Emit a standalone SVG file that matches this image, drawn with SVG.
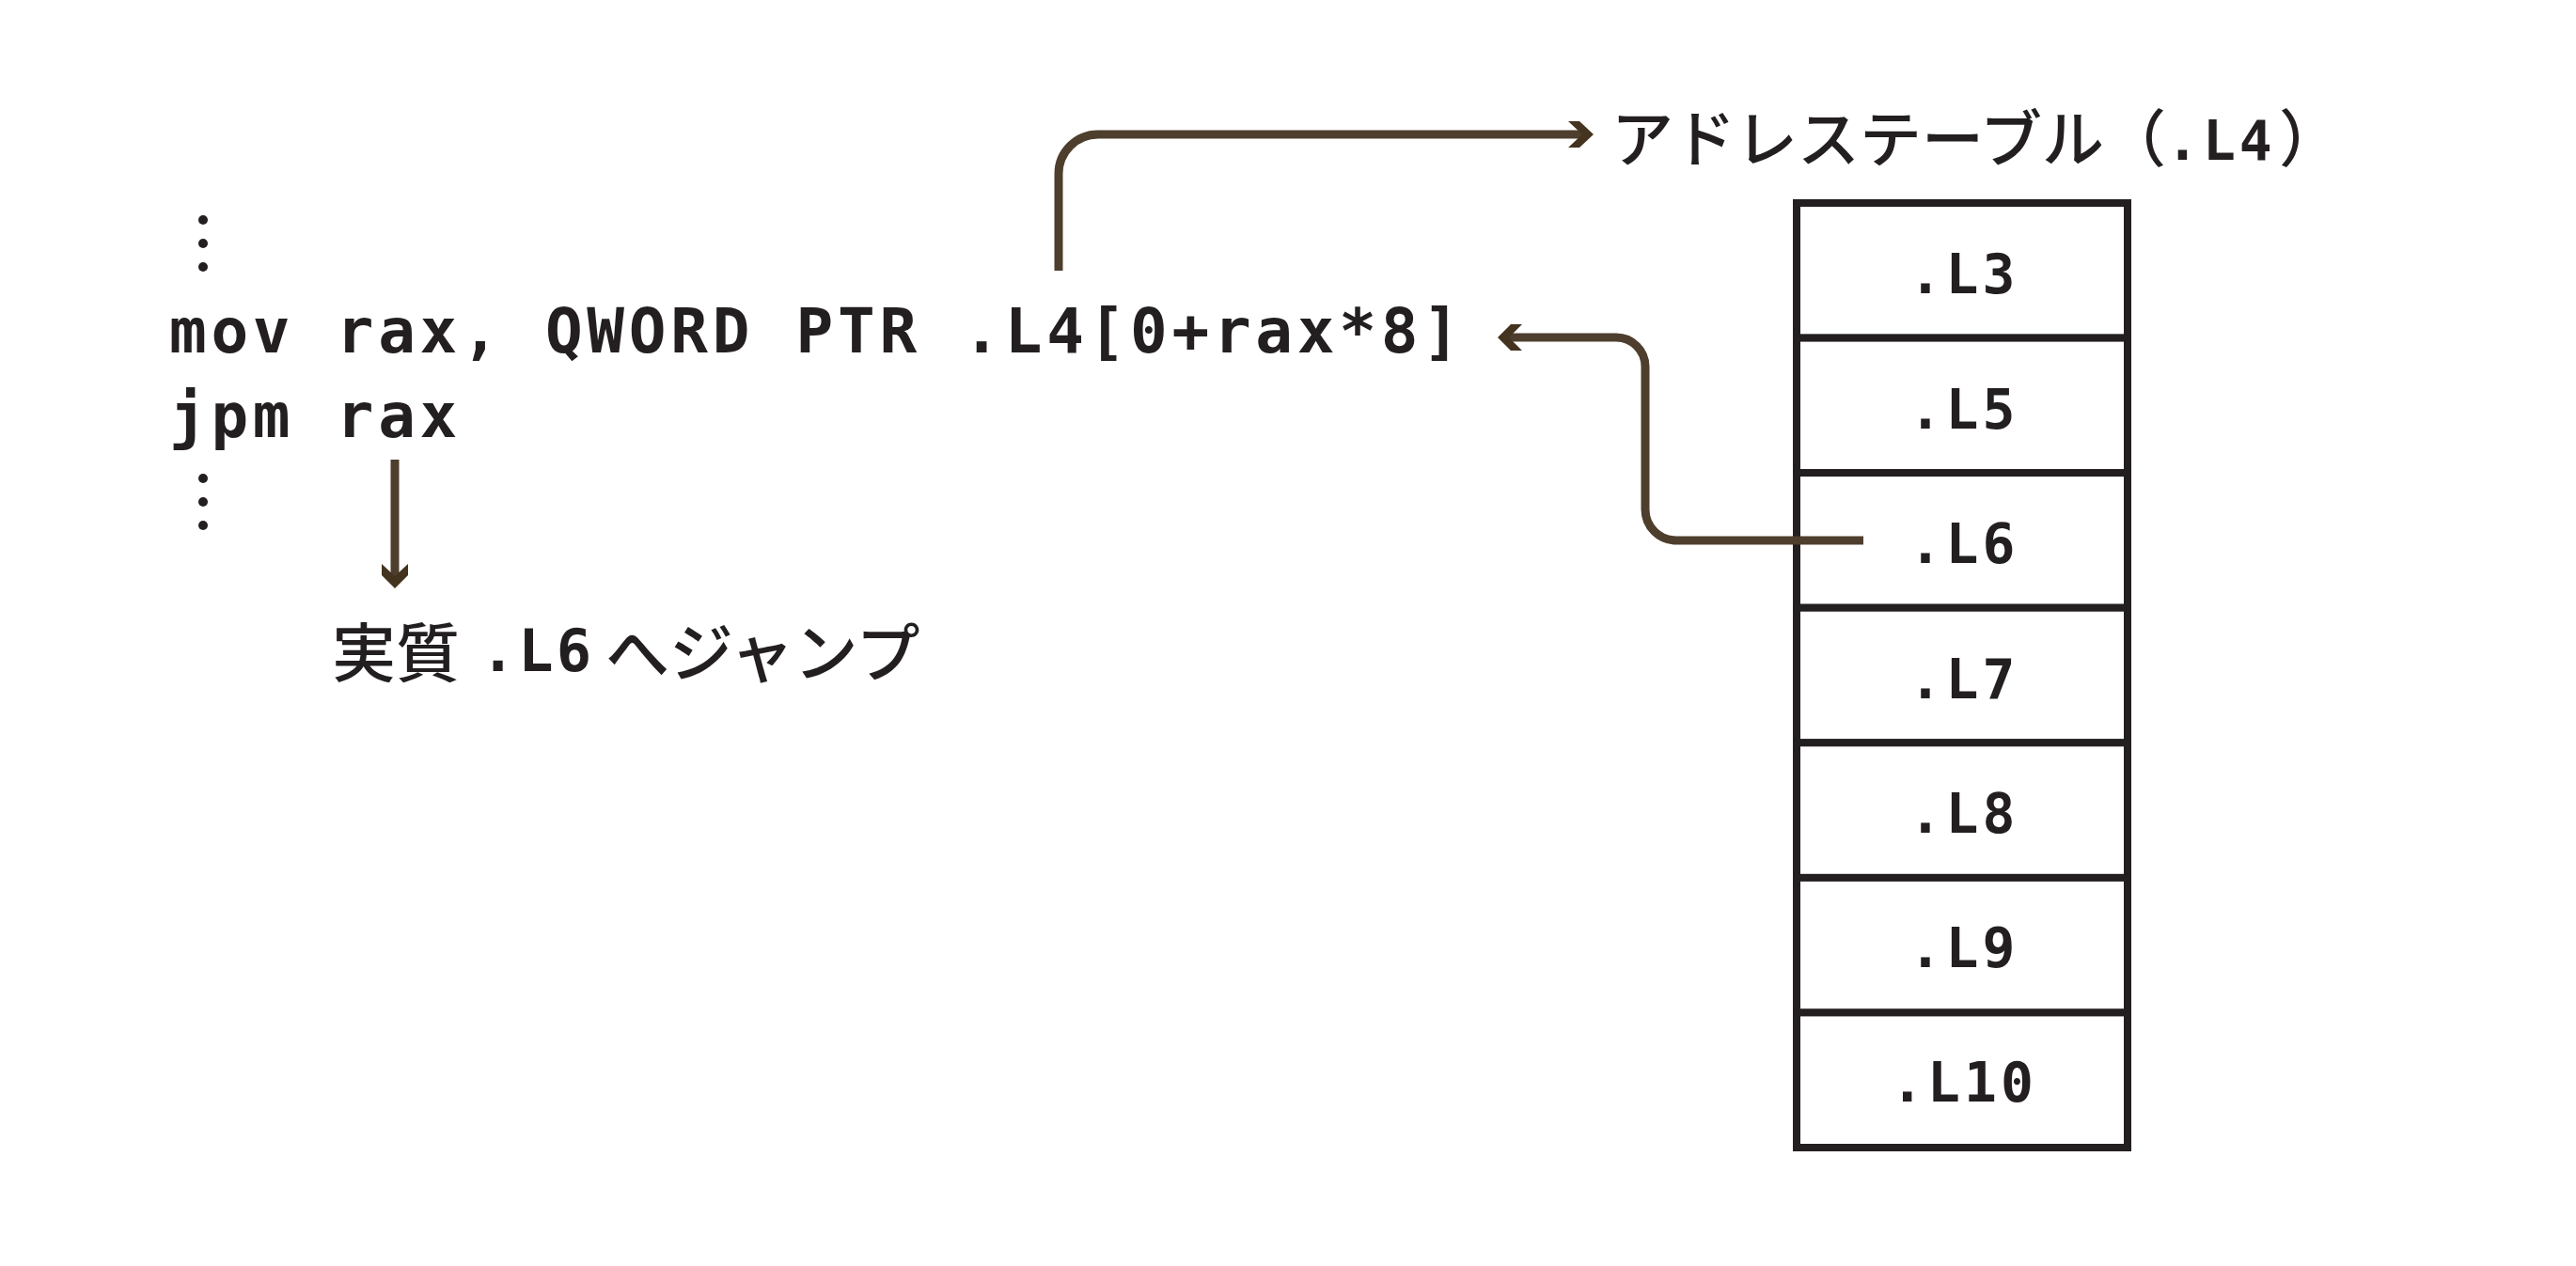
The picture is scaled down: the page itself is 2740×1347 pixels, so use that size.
<svg xmlns="http://www.w3.org/2000/svg" width="2740" height="1347" viewBox="0 0 2740 1347">
<style>
.code{font-family:"DejaVu Sans Mono","Liberation Mono",monospace;font-weight:bold;fill:#231f20}
.cjk{font-family:"Noto Sans CJK JP","Noto Sans",sans-serif;font-weight:500;fill:#231f20}
.cell{fill:#fff;stroke:#231f20;stroke-width:8}
.lbl{font-family:"DejaVu Sans Mono","Liberation Mono",monospace;font-weight:bold;font-size:58px;letter-spacing:4px;fill:#231f20;text-anchor:middle}
.conn{fill:none;stroke:#4e3e2d;stroke-width:9}
.head{fill:#43331f}
.dot{fill:#231f20}
</style>
<rect width="2740" height="1347" fill="#fff"/>
<g id="code">
<text class="code" x="180" y="375" font-size="66" letter-spacing="4.7">mov rax, QWORD PTR .L4[0+rax*8]</text>
<text class="code" x="180" y="465" font-size="66" letter-spacing="4.7">jpm rax</text>
</g>
<g id="ellipsis-top">
<circle class="dot" cx="216" cy="234" r="5"/>
<circle class="dot" cx="216" cy="259" r="5"/>
<circle class="dot" cx="216" cy="284" r="5"/>
</g>
<g id="ellipsis-bottom">
<circle class="dot" cx="216" cy="509" r="5"/>
<circle class="dot" cx="216" cy="534" r="5"/>
<circle class="dot" cx="216" cy="559" r="5"/>
</g>
<g id="jump-label">
<text class="cjk" font-size="68" y="720"><tspan x="353">実質</tspan><tspan class="code" x="511" y="714" font-size="62" letter-spacing="3">.L6</tspan><tspan x="644" y="720">へジャンプ</tspan></text>
</g>
<g id="table-title">
<text class="cjk" font-size="66" y="172"><tspan x="1714">アドレステーブル（</tspan><tspan class="code" x="2304" y="170" font-size="58" letter-spacing="4">.L4</tspan><tspan x="2424" y="172">）</tspan></text>
</g>
<g id="table">
<g id="row-L3"><rect class="cell" x="1911" y="216" width="352" height="143.6"/><text class="lbl" x="2089" y="312">.L3</text></g>
<g id="row-L5"><rect class="cell" x="1911" y="359.6" width="352" height="143.6"/><text class="lbl" x="2089" y="456">.L5</text></g>
<g id="row-L6"><rect class="cell" x="1911" y="503.1" width="352" height="143.6"/><text class="lbl" x="2089" y="599">.L6</text></g>
<g id="row-L7"><rect class="cell" x="1911" y="646.7" width="352" height="143.6"/><text class="lbl" x="2089" y="743">.L7</text></g>
<g id="row-L8"><rect class="cell" x="1911" y="790.3" width="352" height="143.6"/><text class="lbl" x="2089" y="886">.L8</text></g>
<g id="row-L9"><rect class="cell" x="1911" y="933.9" width="352" height="143.6"/><text class="lbl" x="2089" y="1029">.L9</text></g>
<g id="row-L10"><rect class="cell" x="1911" y="1077.4" width="352" height="143.6"/><text class="lbl" x="2089" y="1172">.L10</text></g>
</g>
<g id="connectors">
<path class="conn" d="M1126 288 V185 A42 42 0 0 1 1168 143 H1688"/>
<polygon class="head" points="1668,129 1680,129 1695,143 1680,157 1668,157 1683,143"/>
<path class="conn" d="M1982 575 H1783 A33 33 0 0 1 1750 542 V390 A31 31 0 0 0 1719 359 H1602"/>
<polygon class="head" points="1619,345 1607,345 1593,359 1607,373 1619,373 1605,359"/>
<path class="conn" d="M420 489 V618"/>
<polygon class="head" points="406,600 420,613 434,600 434,612 420,626 406,612"/>
</g>
</svg>
